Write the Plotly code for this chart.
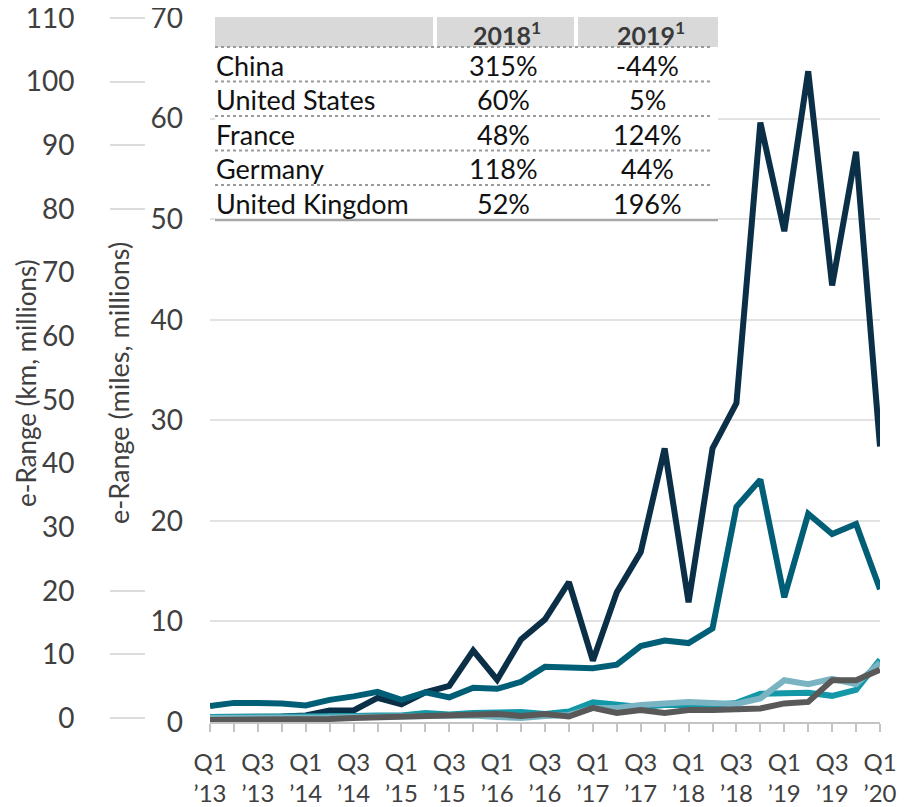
import plotly.graph_objs as go

# quarters Q1 '13 .. Q1 '20
quarters = ["Q1 ’13", "Q2 ’13", "Q3 ’13", "Q4 ’13",
            "Q1 ’14", "Q2 ’14", "Q3 ’14", "Q4 ’14",
            "Q1 ’15", "Q2 ’15", "Q3 ’15", "Q4 ’15",
            "Q1 ’16", "Q2 ’16", "Q3 ’16", "Q4 ’16",
            "Q1 ’17", "Q2 ’17", "Q3 ’17", "Q4 ’17",
            "Q1 ’18", "Q2 ’18", "Q3 ’18", "Q4 ’18",
            "Q1 ’19", "Q2 ’19", "Q3 ’19", "Q4 ’19",
            "Q1 ’20"]

# e-Range, miles (millions)
china = [0.5, 0.5, 0.5, 0.55, 0.65, 1.15, 1.15, 2.4, 1.75, 2.95, 3.6, 7.1, 4.2, 8.2, 10.2,
         13.9, 6.1, 12.9, 16.9, 27.2, 11.9, 27.2, 31.7, 59.6, 48.8, 64.7, 43.4, 56.7, 27.4]
united_states = [1.6, 1.9, 1.9, 1.85, 1.65, 2.2, 2.55, 3.0, 2.2, 2.95, 2.45, 3.4, 3.3, 4.0, 5.5,
                 5.4, 5.35, 5.7, 7.55, 8.1, 7.85, 9.3, 21.4, 24.1, 12.4, 20.7, 18.7, 19.7, 13.2]
france = [0.5, 0.5, 0.45, 0.5, 0.5, 0.55, 0.6, 0.65, 0.65, 0.9, 0.75, 0.9, 1.0, 1.0, 0.8,
          1.05, 1.95, 1.8, 1.5, 1.7, 1.7, 1.7, 1.9, 2.8, 2.85, 2.9, 2.6, 3.2, 6.2]
united_kingdom = [0.4, 0.4, 0.35, 0.35, 0.4, 0.45, 0.5, 0.55, 0.55, 0.5, 0.55, 0.65, 0.5, 0.4, 0.6,
                  0.7, 1.4, 1.4, 1.7, 1.9, 2.0, 1.9, 1.8, 2.35, 4.15, 3.75, 4.3, 3.75, 5.9]
germany = [0.2, 0.2, 0.2, 0.2, 0.25, 0.3, 0.4, 0.45, 0.5, 0.5, 0.55, 0.7, 0.8, 0.6, 0.8,
           0.55, 1.4, 0.9, 1.2, 0.9, 1.2, 1.2, 1.3, 1.35, 1.85, 2.0, 4.15, 4.15, 5.2]

# growth table
table_countries = ["China", "United States", "France", "Germany", "United Kingdom"]
growth_2018 = ["315%", "60%", "48%", "118%", "52%"]
growth_2019 = ["-44%", "5%", "124%", "44%", "196%"]
table_years = ["2018<sup>1</sup>", "2019<sup>1</sup>"]

km_ticks = [0, 10, 20, 30, 40, 50, 60, 70, 80, 90, 100, 110]

# the page body has an 8px margin; positions below are given in screen pixels
OFF = 8
W, H = 910, 799
ML, MR, MT, MB = 20, 38, 10, 85
PW = W - ML - MR
PH = H - MT - MB
FONT = "Lato"
TXT = "#404040"


def px(x):
    # screen pixel -> paper x
    return (x - OFF - ML) / PW


def py(y):
    # screen pixel -> paper y
    return (H - MB - (y - OFF)) / PH


fig = go.Figure()
series = [
    ("China", china, "#0b2f47"),
    ("United States", united_states, "#005f76"),
    ("France", france, "#1398a8"),
    ("United Kingdom", united_kingdom, "#7ab4c2"),
    ("Germany", germany, "#595959"),
]
qx = list(range(len(quarters)))
for name, vals, color in series:
    fig.add_trace(go.Scatter(x=qx, y=vals, mode="lines", name=name,
                             line=dict(color=color, width=6), showlegend=False))

# invisible trace to carry km axis
fig.add_trace(go.Scatter(x=[0], y=[0], yaxis="y2", mode="markers",
                         marker=dict(opacity=0), showlegend=False, hoverinfo="skip"))

fig.update_layout(
    width=W, height=H,
    margin=dict(l=ML, r=MR, t=MT, b=MB, autoexpand=False),
    plot_bgcolor="white", paper_bgcolor="white",
    font=dict(family=FONT, color=TXT, size=26),
    xaxis=dict(domain=[px(210), 1], range=[0, len(quarters) - 1], automargin=False,
               tickvals=qx[::2], ticktext=[q.replace(" ", "<br>") for q in quarters[::2]],
               tickangle=0, showline=True, linecolor="#c4c4c4", linewidth=2,
               ticks="outside", ticklen=8, tickcolor="#c4c4c4", tickwidth=1.5,
               minor=dict(dtick=1, ticks="outside", ticklen=8, tickcolor="#c4c4c4", tickwidth=1.5),
               showgrid=False, zeroline=False, tickfont=dict(size=24), ticklabelstandoff=10,
               ticklabeloverflow="allow"),
    yaxis=dict(range=[0, 70], dtick=10, showgrid=True, gridcolor="#e2e2e2", gridwidth=1.5,
               zeroline=False, showline=False, ticks="", ticklabelstandoff=26,
               automargin=False, tickfont=dict(size=28), ticklabeloverflow="allow"),
    yaxis2=dict(overlaying="y", anchor="free", side="left", position=px(145),
                range=[-0.62, 110], tickvals=km_ticks, showgrid=False, zeroline=False,
                showline=False, ticks="outside", ticklen=35, tickcolor="#dcdcdc", tickwidth=2,
                automargin=False, ticklabelstandoff=30, tickfont=dict(size=28),
                ticklabeloverflow="allow"),
)

# axis titles
fig.add_annotation(text="e-Range (km, millions)", xref="paper", yref="paper",
                   x=px(26), y=py(383), xanchor="center", yanchor="middle",
                   textangle=-90, showarrow=False, font=dict(size=26, color=TXT))
fig.add_annotation(text="e-Range (miles, millions)", xref="paper", yref="paper",
                   x=px(118), y=py(383), xanchor="center", yanchor="middle",
                   textangle=-90, showarrow=False, font=dict(size=27, color=TXT),
                   bgcolor="white", borderpad=10)

# growth table
T_L, T_R = 215, 718
fig.add_shape(type="rect", xref="paper", yref="paper", x0=px(T_L), x1=px(T_R),
              y0=py(19), y1=py(221), fillcolor="white", line_width=0, layer="above")
for x0, x1 in [(215, 433), (437, 574), (578, 718)]:
    fig.add_shape(type="rect", xref="paper", yref="paper", x0=px(x0), x1=px(x1),
                  y0=py(17), y1=py(47), fillcolor="#d9d9d9", line_width=0, layer="above")
col_x = [503, 647]
for cx, label in zip(col_x, table_years):
    fig.add_annotation(text=label, xref="paper", yref="paper", x=px(cx + 4), y=py(33),
                       xanchor="center", yanchor="middle", showarrow=False,
                       font=dict(size=25, color="#3a3a3a", weight="bold"))
row_h = 34.5
for i, (c, a, b) in enumerate(zip(table_countries, growth_2018, growth_2019)):
    yc = 65 + i * row_h
    fig.add_annotation(text=c, xref="paper", yref="paper", x=px(214), y=py(yc),
                       xanchor="left", yanchor="middle", showarrow=False,
                       font=dict(size=27, color="#111111"))
    for cx, v in zip(col_x, (a, b)):
        fig.add_annotation(text=v, xref="paper", yref="paper", x=px(cx), y=py(yc),
                           xanchor="center", yanchor="middle", showarrow=False,
                           font=dict(size=27, color="#111111"))
    yl = 47 + i * row_h
    fig.add_shape(type="line", xref="paper", yref="paper", x0=px(T_L), x1=px(713),
                  y0=py(yl), y1=py(yl), line=dict(color="#9a9a9a", width=2, dash="dot"),
                  layer="above")
fig.add_shape(type="line", xref="paper", yref="paper", x0=px(T_L), x1=px(T_R),
              y0=py(220), y1=py(220), line=dict(color="#a8a8a8", width=2.5), layer="above")

fig.write_html("out.html")
